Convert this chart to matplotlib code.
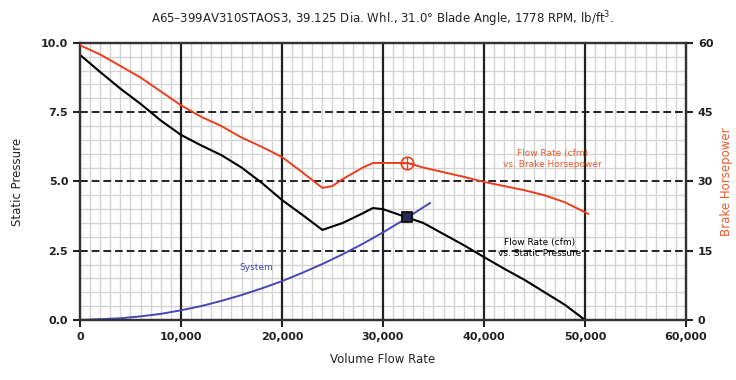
import matplotlib
matplotlib.use("Agg")
from matplotlib import pyplot as plt
import numpy as np

# volume flow rate (cfm) vs static pressure
sp_cfm = [0, 2000, 4000, 6000, 8000, 10000, 12000, 14000, 16000, 18000, 20000,
          22000, 24000, 26000, 28000, 29000, 30000, 32000, 34000, 36000, 38000,
          40000, 42000, 44000, 46000, 48000, 50000]
sp = [9.57, 8.95, 8.35, 7.8, 7.2, 6.68, 6.3, 5.95, 5.5, 4.95, 4.33,
      3.8, 3.25, 3.5, 3.85, 4.04, 4.0, 3.75, 3.5, 3.1, 2.7,
      2.27, 1.85, 1.45, 1.0, 0.55, 0.0]

# volume flow rate (cfm) vs brake horsepower
bhp_cfm = [0, 2000, 4000, 6000, 8000, 10000, 12000, 14000, 16000, 18000, 20000,
           22000, 24000, 25000, 26000, 28000, 29000, 32400, 34000, 36000, 38000,
           40000, 42000, 44000, 46000, 48000, 50300]
bhp = [59.5, 57.5, 55.0, 52.5, 49.5, 46.5, 44.0, 42.0, 39.5, 37.5, 35.3,
       32.0, 28.6, 29.0, 30.5, 33.0, 34.0, 34.0, 33.0, 32.0, 31.0,
       29.9, 29.0, 28.1, 27.0, 25.5, 23.0]

# system curve
sys_cfm = [0, 4000, 6000, 8000, 10000, 12000, 14000, 16000, 18000, 20000,
           22000, 24000, 26000, 28000, 30000, 32000, 34650]
sys_sp = [0.0, 0.06, 0.13, 0.22, 0.35, 0.5, 0.69, 0.9, 1.14, 1.4,
          1.7, 2.02, 2.37, 2.75, 3.16, 3.6, 4.22]

op_cfm = 32400
op_sp = 3.72
op_bhp = 34.0

red = "#ec3d1c"
orange = "#f05a28"
blue = "#4a46b4"

fig = plt.figure(figsize=(7.36, 3.8), dpi=100)
ax = fig.add_axes([0.1087, 0.158, 0.8233, 0.729])
ax2 = ax.twinx()

ax.set_xlim(0, 60000)
ax.set_ylim(0, 10)
ax2.set_ylim(0, 60)

# grid
for x in np.arange(1000, 60000, 1000):
    if x % 10000 != 0:
        ax.axvline(x, color="#d3d3d3", lw=1.0, zorder=0)
for y in np.arange(0.5, 10, 0.5):
    if y % 2.5 != 0:
        ax.axhline(y, color="#d3d3d3", lw=1.0, zorder=0)
for x in [10000, 20000, 30000, 40000, 50000]:
    ax.axvline(x, color="#222222", lw=1.6, zorder=1)
for y in [2.5, 5.0, 7.5]:
    ax.axhline(y, color="#222222", lw=1.4, ls=(0, (4, 2)), zorder=1)

ax.plot(sys_cfm, sys_sp, color=blue, lw=1.4, zorder=3)
ax.plot(sp_cfm, sp, color="black", lw=1.5, zorder=4)
ax.plot([op_cfm], [op_sp], marker="s", ms=7, mfc="#2a2a55", mec="black", mew=1.2, zorder=5)

ax2.plot(bhp_cfm, bhp, color=red, lw=1.4, zorder=4)
ax2.plot([op_cfm], [op_bhp], marker="o", ms=9, mfc="none", mec=red, mew=1.2)
ax2.plot([op_cfm], [op_bhp], marker="+", ms=9, mec=red, mew=1.0)

ax.text(46800, 5.8, "Flow Rate (cfm)\nvs. Brake Horsepower", color=orange,
        fontsize=6.5, ha="center", va="center", linespacing=1.3)
ax.text(45500, 2.6, "Flow Rate (cfm)\nvs. Static Pressure", color="black",
        fontsize=6.5, ha="center", va="center", linespacing=1.3)
ax.text(17500, 1.88, "System", color=blue, fontsize=6.5, ha="center", va="center")

ax.set_xticks([0, 10000, 20000, 30000, 40000, 50000, 60000])
ax.set_xticklabels(["0", "10,000", "20,000", "30,000", "40,000", "50,000", "60,000"])
ax.set_yticks([0, 2.5, 5.0, 7.5, 10.0])
ax.set_yticklabels(["0.0", "2.5", "5.0", "7.5", "10.0"])
ax2.set_yticks([0, 15, 30, 45, 60])

for a in (ax, ax2):
    a.tick_params(labelsize=8, width=1.5, length=5, colors="#222222")
    for s in a.spines.values():
        s.set_color("#333333")
        s.set_linewidth(1.6)
for lab in ax.get_xticklabels() + ax.get_yticklabels() + ax2.get_yticklabels():
    lab.set_fontweight("bold")

ax.set_xlabel("Volume Flow Rate", fontsize=8.5, color="#222222", labelpad=8)
ax.set_ylabel("Static Pressure", fontsize=8.5, color="#222222", labelpad=12)
ax2.set_ylabel("Brake Horsepower", fontsize=8.5, color=orange, labelpad=5)
ax.set_title("A65\u2013399AV310STAOS3, 39.125 Dia. Whl., 31.0\u00b0 Blade Angle, 1778 RPM, lb/ft$^3$.",
             fontsize=8.5, color="#222222", pad=14)

fig.savefig("out.png", dpi=100)
